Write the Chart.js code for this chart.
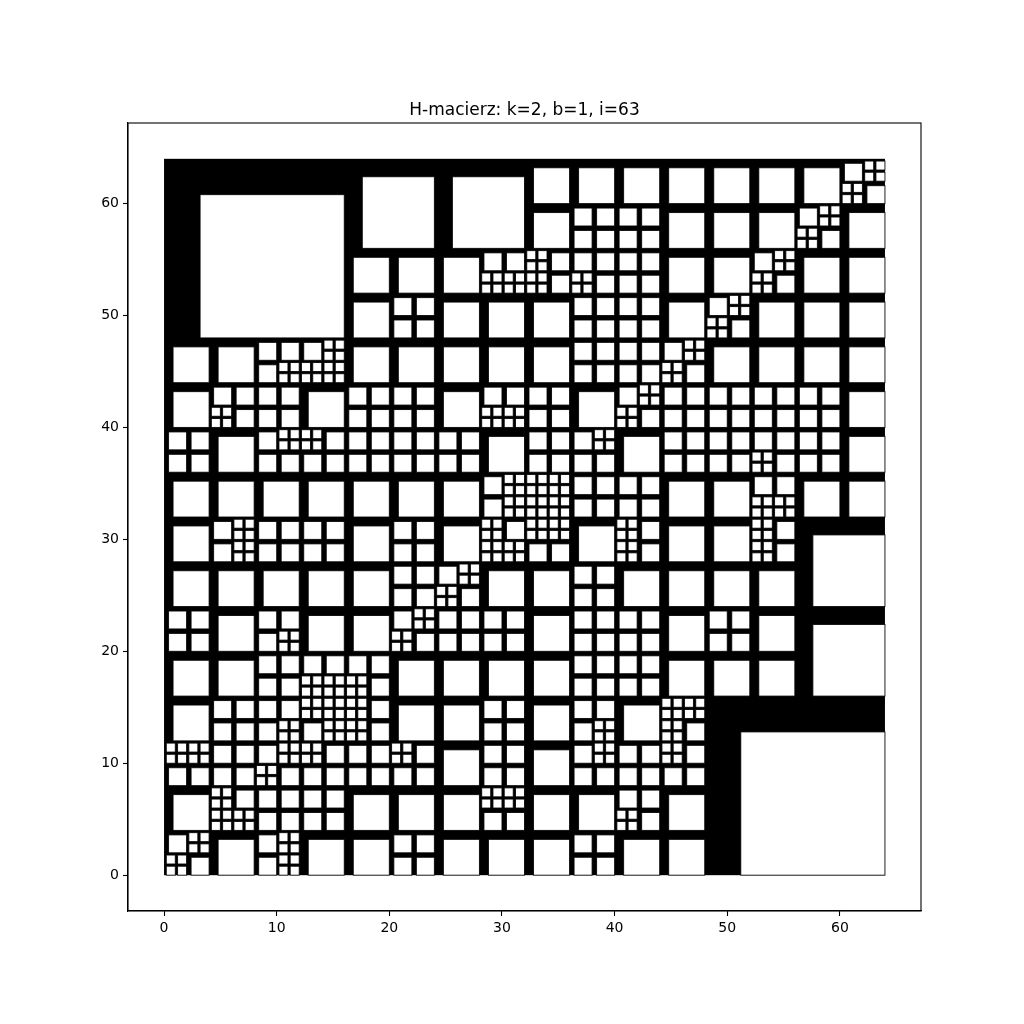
<!DOCTYPE html>
<html><head><meta charset="utf-8">
<script src="https://cdn.jsdelivr.net/npm/chart.js@4"></script>
<style>html,body{margin:0;padding:0;background:#fff}canvas{display:block}</style>
</head><body>
<canvas id="c" width="1024" height="1024"></canvas>
<script>
const titleText = 'H-macierz: k=2, b=1, i=63';
const tickValues = [0, 10, 20, 30, 40, 50, 60];
const axisMin = -3.2, axisMax = 67.2;
const stripFraction = 0.2;
// lower-left corners of 16x16 and 8x8 blocks
const blocks16 = [[0, 48], [48, 0]];
const blocks8 = [[16, 56], [24, 56], [56, 24], [56, 16]];
// 4x4 cells, rows from top (y 60-64) to bottom (y 0-4), columns x = 0,4,...,60
// '-' = inside a bigger block, 'A' = one 4x4 block,
// otherwise quadrants TL,TR,BL,BR: '2' = one 2x2 block, '1' = four 1x1 blocks
const cellRows = [
 ['-','-','-','-','-','-','-','-','A','A','A','A','A','A','A','2112'],
 ['-','-','-','-','-','-','-','-','A','2222','2222','A','A','A','2112','A'],
 ['-','-','-','-','A','A','A','2211','1212','2212','2222','A','A','2112','A','A'],
 ['-','-','-','-','A','2222','A','A','A','2222','2222','A','2112','A','A','A'],
 ['A','A','2221','2111','A','A','A','A','A','2222','2222','2112','A','A','A','A'],
 ['A','2212','2222','A','2222','2222','A','2211','2222','A','2112','2222','2222','2222','2222','A'],
 ['2222','A','2122','1222','2222','2222','2222','A','2222','2122','A','2222','2222','2212','2222','A'],
 ['A','A','A','A','A','A','A','2121','1111','2222','2222','A','A','2211','A','A'],
 ['A','2121','2222','2222','A','2222','A','1211','1122','A','1212','A','A','1212','-','-'],
 ['A','A','A','A','A','2222','2112','A','A','2222','A','A','A','A','-','-'],
 ['2222','A','2221','A','A','2112','2222','2222','A','2222','2222','A','2222','A','-','-'],
 ['A','A','2222','2211','2212','A','A','A','A','2222','2222','A','A','A','-','-'],
 ['A','2222','2221','1121','1212','A','A','2222','A','2221','A','1112','-','-','-','-'],
 ['1122','2222','2112','1222','2222','1222','A','2222','A','2122','2222','1222','-','-','-','-'],
 ['A','1211','2222','2222','A','A','A','1122','A','A','2212','A','-','-','-','-'],
 ['2112','A','2121','A','A','2222','A','A','A','2222','A','A','-','-','-','-']
];

// expand to block list {x, y, s}
const blocks = [];
blocks16.forEach(([x, y]) => blocks.push({x, y, s: 16}));
blocks8.forEach(([x, y]) => blocks.push({x, y, s: 8}));
cellRows.forEach((row, r) => {
  const y0 = 60 - 4 * r;
  row.forEach((code, c) => {
    const x0 = 4 * c;
    if (code === '-') return;
    if (code === 'A') { blocks.push({x: x0, y: y0, s: 4}); return; }
    const quads = [[x0, y0 + 2], [x0 + 2, y0 + 2], [x0, y0], [x0 + 2, y0]];
    quads.forEach(([qx, qy], i) => {
      if (code[i] === '2') blocks.push({x: qx, y: qy, s: 2});
      else {
        blocks.push({x: qx, y: qy + 1, s: 1});
        blocks.push({x: qx + 1, y: qy + 1, s: 1});
        blocks.push({x: qx, y: qy, s: 1});
        blocks.push({x: qx + 1, y: qy, s: 1});
      }
    });
  });
});

const blockPlugin = {
  id: 'hblocks',
  beforeDatasetsDraw(chart) {
    const ctx = chart.ctx, xs = chart.scales.x, ys = chart.scales.y;
    const data = chart.data.datasets[0].data;
    ctx.save();
    // blocks tile the matrix: fill their union in black at once (no seams)
    const minX = Math.min(...data.map(b => b.x)), maxX = Math.max(...data.map(b => b.x + b.s));
    const minY = Math.min(...data.map(b => b.y)), maxY = Math.max(...data.map(b => b.y + b.s));
    const X0 = xs.getPixelForValue(minX), X1 = xs.getPixelForValue(maxX);
    const Yt = ys.getPixelForValue(maxY), Yb = ys.getPixelForValue(minY);
    ctx.fillStyle = '#000';
    ctx.fillRect(X0, Yt, X1 - X0, Yb - Yt);
    const whites = data.map(b => {
      const x0 = xs.getPixelForValue(b.x + stripFraction * b.s), x1 = xs.getPixelForValue(b.x + b.s);
      const yt = ys.getPixelForValue(b.y + (1 - stripFraction) * b.s), yb = ys.getPixelForValue(b.y);
      return [x0, yt, x1 - x0, yb - yt];
    });
    ctx.fillStyle = '#fff';
    whites.forEach(w => ctx.fillRect(w[0], w[1], w[2], w[3]));
    ctx.strokeStyle = 'rgba(0,0,0,0.85)';
    ctx.lineWidth = 1;
    whites.forEach(w => ctx.strokeRect(w[0], w[1], w[2], w[3]));
    ctx.restore();
  },
  afterDraw(chart) {
    const a = chart.chartArea, ctx = chart.ctx;
    ctx.save();
    ctx.strokeStyle = '#000';
    ctx.lineWidth = 1.1;
    ctx.strokeRect(a.left, a.top, a.right - a.left, a.bottom - a.top);
    ctx.fillStyle = '#000';
    ctx.font = '17px "DejaVu Sans"';
    ctx.textAlign = 'center';
    ctx.textBaseline = 'alphabetic';
    ctx.fillText(titleText, (a.left + a.right) / 2, a.top - 8);
    ctx.restore();
  }
};

Chart.defaults.font.family = 'DejaVu Sans';
Chart.defaults.color = '#000';

const axisCfg = (isX) => ({
  type: 'linear',
  min: axisMin,
  max: axisMax,
  afterBuildTicks: s => { s.ticks = tickValues.map(v => ({value: v})); },
  afterFit: s => { if (isX) s.height = 113; else s.width = 128; },
  grid: {display: true, drawOnChartArea: false, drawTicks: true, tickLength: 5, tickColor: '#000', tickWidth: 1.1},
  border: {display: true, color: '#000', width: 1.1},
  ticks: {font: {size: 14}, color: '#000', padding: 4, autoSkip: false, maxRotation: 0}
});

new Chart(document.getElementById('c'), {
  type: 'scatter',
  data: {datasets: [{label: 'blocks', data: blocks, pointRadius: 0, pointHoverRadius: 0}]},
  options: {
    responsive: false,
    animation: false,
    devicePixelRatio: 1,
    layout: {padding: {left: 0, right: 103, top: 123, bottom: 0}},
    plugins: {
      legend: {display: false},
      tooltip: {enabled: false},
      title: {display: false}
    },
    scales: {x: axisCfg(true), y: axisCfg(false)}
  },
  plugins: [blockPlugin]
});
</script>
</body></html>
